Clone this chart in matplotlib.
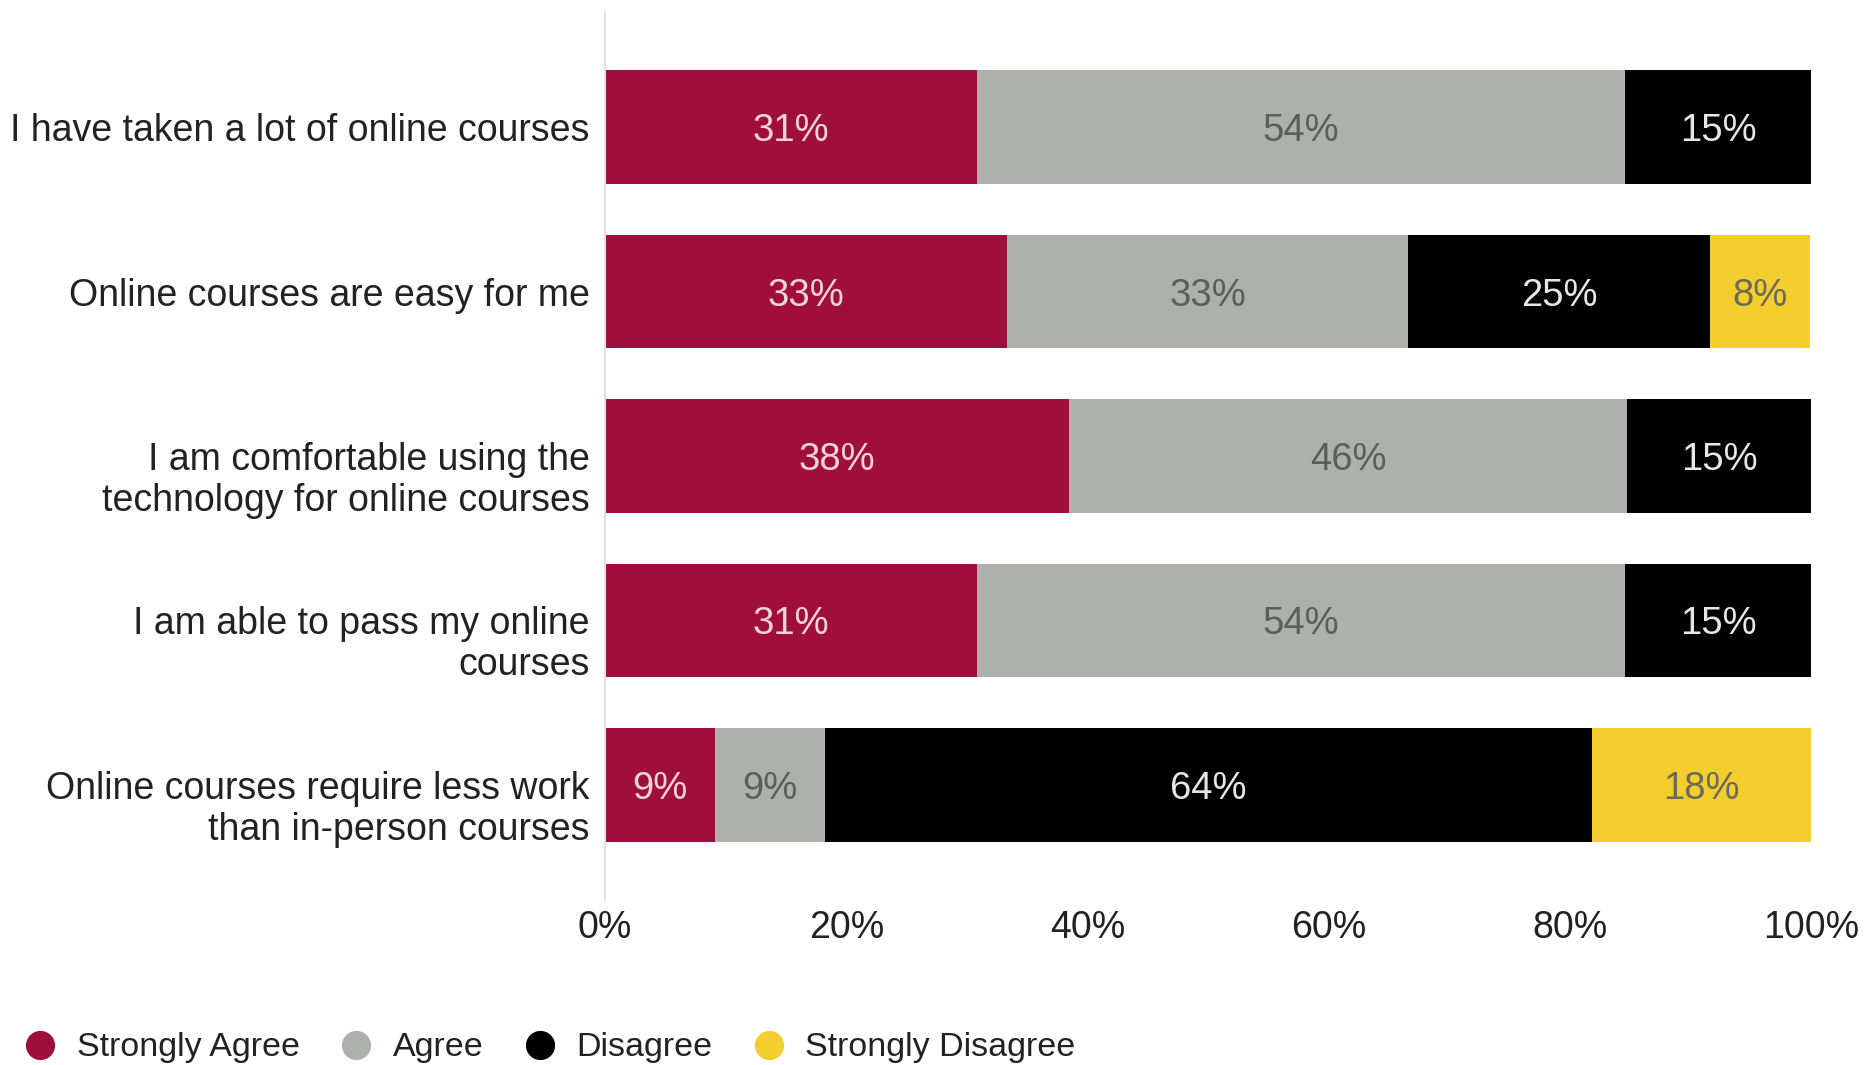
import matplotlib
matplotlib.use("Agg")
import matplotlib.pyplot as plt
from matplotlib.lines import Line2D
from matplotlib.transforms import ScaledTranslation

plt.rcParams['font.family'] = ['Liberation Sans', 'DejaVu Sans']

questions = [
    "I have taken a lot of online courses",
    "Online courses are easy for me",
    "I am comfortable using the\ntechnology for online courses",
    "I am able to pass my online\ncourses",
    "Online courses require less work\nthan in-person courses",
]
responses = ["Strongly Agree", "Agree", "Disagree", "Strongly Disagree"]
strongly_agree = [30.8, 33.3, 38.5, 30.8, 9.1]
agree = [53.8, 33.3, 46.2, 53.8, 9.1]
disagree = [15.4, 25.0, 15.4, 15.4, 63.6]
strongly_disagree = [0.0, 8.3, 0.0, 0.0, 18.2]
ticks = [0, 20, 40, 60, 80, 100]

colors = ["#a00f3c", "#adb1ab", "#000000", "#f4cd2f"]
label_colors = ["#f2d3db", "#5c5e5c", "#e6e6e6", "#6e6a58"]

fig = plt.figure(figsize=(18.64, 10.65), dpi=100)
ax = fig.add_axes([0.3246, 0.155, 0.6470, 0.8337])

series = [strongly_agree, agree, disagree, strongly_disagree]
ypos = list(range(len(questions)))
left = [0.0] * len(questions)
for vals, c, lc in zip(series, colors, label_colors):
    ax.barh(ypos, vals, left=left, height=0.69, color=c)
    for y, v, l in zip(ypos, vals, left):
        if v > 0:
            ax.text(l + v / 2, y, "%d%%" % round(v), ha="center",
                    va="center_baseline", color=lc, fontsize=27.5)
    left = [a + b for a, b in zip(left, vals)]

ax.set_ylim(4.7, -0.7)
ax.set_xlim(0, 100)
ax.set_yticks(ypos)
ax.set_yticklabels(questions, fontsize=27, color="#222222", linespacing=1.17)
ax.set_xticks(ticks)
ax.set_xticklabels(["%d%%" % t for t in ticks], fontsize=27, color="#222222")
ax.tick_params(length=0)
ax.tick_params(axis="y", pad=11)
ax.tick_params(axis="x", pad=7)
for s in ["top", "right", "bottom"]:
    ax.spines[s].set_visible(False)
ax.spines["left"].set_color("#e0e0e0")
ax.spines["left"].set_linewidth(1.5)

# two-line labels: first line sits level with the bar, second hangs below
for lab in ax.get_yticklabels():
    if "\n" in lab.get_text():
        lab.set_transform(lab.get_transform() +
                          ScaledTranslation(0, -0.18, fig.dpi_scale_trans))

handles = [Line2D([], [], marker="o", linestyle="", markersize=20,
                  markerfacecolor=c, markeredgecolor=c) for c in colors]
fig.legend(handles, responses, loc="center left", bbox_to_anchor=(-0.004, 0.016),
           ncol=4, frameon=False, fontsize=24.5, handlelength=1.0,
           handletextpad=0.58, columnspacing=1.15, labelcolor="#222222")

fig.savefig("out.png", dpi=100)
